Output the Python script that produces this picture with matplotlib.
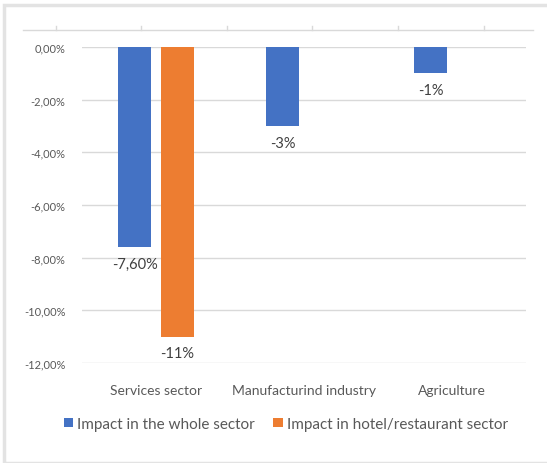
import numpy as np
import matplotlib.pyplot as plt
from matplotlib.lines import Line2D
from matplotlib.patches import Rectangle

# data (values in %)
categories = ["Services sector", "Manufacturind industry", "Agriculture"]
whole_sector = [-7.6, -3, -1]
hotel_sector = [-11, np.nan, np.nan]
whole_labels = ["-7,60%", "-3%", "-1%"]
hotel_labels = ["-11%", "", ""]
yticks = [0, -2, -4, -6, -8, -10, -12]
ytick_labels = ["0,00%", "-2,00%", "-4,00%", "-6,00%", "-8,00%", "-10,00%", "-12,00%"]
series_names = ["Impact in the whole sector", "Impact in hotel/restaurant sector"]

blue = "#4472C4"
orange = "#ED7D31"
grey_txt = "#595959"

plt.rcParams['font.family'] = ['Lato', 'DejaVu Sans']

W, H = 547, 464
fig = plt.figure(figsize=(W / 100, H / 100), dpi=100)
ax = fig.add_axes([82 / W, 100 / H, 444 / W, 316 / H])

x = np.arange(len(categories))
bw = 0.225
off = 0.145
b1 = ax.bar(x - off, whole_sector, bw, color=blue, label=series_names[0], zorder=3)
b2 = ax.bar(x + off, hotel_sector, bw, color=orange, label=series_names[1], zorder=3)

for bars, labs in [(b1, whole_labels), (b2, hotel_labels)]:
    for rect, lab in zip(bars, labs):
        if not lab:
            continue
        ax.annotate(lab, (rect.get_x() + rect.get_width() / 2, rect.get_height()),
                    xytext=(0, -7), textcoords="offset points", ha="center", va="top",
                    fontsize=10.5, color="#404040")

ax.set_xlim(-0.5, len(categories) - 0.5)
ax.set_ylim(-12, 0)
ax.set_yticks(yticks)
ax.set_yticklabels(ytick_labels)
ax.set_xticks(x)
ax.set_xticklabels(categories)
ax.tick_params(axis="y", length=0, pad=12, labelsize=8, labelcolor=grey_txt)
ax.tick_params(axis="x", length=0, pad=15, labelsize=10, labelcolor=grey_txt)
ax.yaxis.grid(True, color="#D9D9D9", linewidth=1)
ax.set_axisbelow(True)
for s in ax.spines.values():
    s.set_visible(False)

leg = fig.legend(loc="center", bbox_to_anchor=(286 / W, 1 - 425 / H), ncol=2, frameon=False,
                 fontsize=11, handlelength=0.6, handleheight=0.6, handletextpad=0.3,
                 columnspacing=1.2, labelcolor=grey_txt)

# panel edge / shadow and stray axis strip at the top
fig.add_artist(Rectangle((4 / W, 0), 1.0, 1 - 6 / H, transform=fig.transFigure,
                         fill=False, edgecolor="#E3E3E3", linewidth=2.5))
ytop = 1 - 31 / H
fig.add_artist(Line2D([23 / W, 533 / W], [ytop, ytop], transform=fig.transFigure,
                      color="#D9D9D9", linewidth=1))
for tx in [56, 141, 227, 312, 398, 484]:
    fig.add_artist(Line2D([tx / W, tx / W], [ytop, ytop + 4 / H], transform=fig.transFigure,
                          color="#D9D9D9", linewidth=1))

fig.savefig("out.png", dpi=100)
